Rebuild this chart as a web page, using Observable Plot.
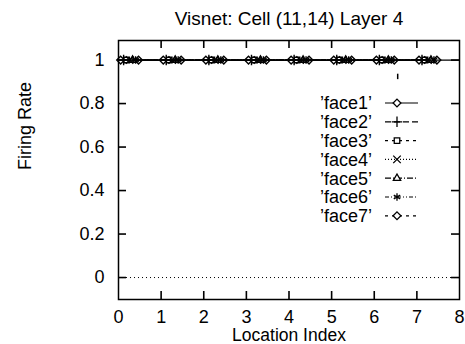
<!DOCTYPE html>
<html>
<head>
<meta charset="utf-8">
<script src="https://cdn.jsdelivr.net/npm/d3@7"></script>
<script src="https://cdn.jsdelivr.net/npm/@observablehq/plot@0.6"></script>
<style>
  html, body { margin: 0; padding: 0; background: #fff; }
  #wrap { position: relative; width: 465px; height: 344px; font-family: "Liberation Sans", Arial, sans-serif; }
  #legend { position: absolute; left: 0; top: 0; pointer-events: none; }
</style>
</head>
<body>
<div id="wrap"></div>
<script>
const title = "Visnet: Cell (11,14) Layer 4";
const xLabel = "Location Index";
const yLabel = "Firing Rate";
const faces = ["’face1’", "’face2’", "’face3’", "’face4’", "’face5’", "’face6’", "’face7’"];
const symbols = ["diamond2", "plus", "square2", "times", "triangle2", "asterisk", "diamond2"];
const dashes = [null, "6,3", "3,4", "1,2", "6,2,1,2", "4,2,1,2,1,2", "3,4"];
const xTicks = [0, 1, 2, 3, 4, 5, 6, 7, 8];
const yTicks = [0, 0.2, 0.4, 0.6, 0.8, 1];

// x positions of each face's points (one per location), all with firing rate 1
const face1X = [0.05, 1.05, 2.05, 3.05, 4.05, 5.05, 6.05, 7.05];
const face2X = [0.12, 1.12, 2.12, 3.12, 4.12, 5.12, 6.12, 7.12];
const face3X = [0.19, 1.19, 2.19, 3.19, 4.19, 5.19, 6.19, 7.19];
const face4X = [0.26, 1.26, 2.26, 3.26, 4.26, 5.26, 6.26, 7.26];
const face5X = [0.33, 1.33, 2.33, 3.33, 4.33, 5.33, 6.33, 7.33];
const face6X = [0.40, 1.40, 2.40, 3.40, 4.40, 5.40, 6.40, 7.40];
const face7X = [0.47, 1.47, 2.47, 3.47, 4.47, 5.47, 6.47, 7.47];
const face1Y = [1, 1, 1, 1, 1, 1, 1, 1];
const face2Y = [1, 1, 1, 1, 1, 1, 1, 1];
const face3Y = [1, 1, 1, 1, 1, 1, 1, 1];
const face4Y = [1, 1, 1, 1, 1, 1, 1, 1];
const face5Y = [1, 1, 1, 1, 1, 1, 1, 1];
const face6Y = [1, 1, 1, 1, 1, 1, 1, 1];
const face7Y = [1, 1, 1, 1, 1, 1, 1, 1];
// small stray mark below the line
const strayX = [6.55];
const strayY1 = [0.91];
const strayY2 = [0.935];

const faceXs = [face1X, face2X, face3X, face4X, face5X, face6X, face7X];
const faceYs = [face1Y, face2Y, face3Y, face4Y, face5Y, face6Y, face7Y];

const W = 465, H = 344, mT = 40, mB = 45, mL = 118, mR = 6;
const xDom = [0, 8], yDom = [-0.101, 1.09];
const TICK = 8;
const tickLenX = TICK * (xDom[1] - xDom[0]) / (W - mL - mR);
const tickLenY = TICK * (yDom[1] - yDom[0]) / (H - mT - mB);
const innerX = xTicks.slice(1, -1);
const tickBottom = innerX.map(x => ({x, y1: yDom[0], y2: yDom[0] + tickLenY}));
const tickTop = innerX.map(x => ({x, y1: yDom[1], y2: yDom[1] - tickLenY}));
const tickLeft = yTicks.map(y => ({y, x1: xDom[0], x2: xDom[0] + tickLenX}));
const tickRight = yTicks.map(y => ({y, x1: xDom[1], x2: xDom[1] - tickLenX}));

const font = "Liberation Sans, Arial, sans-serif";
const marks = [];
marks.push(Plot.ruleY([0], {stroke: "#000", strokeWidth: 1, strokeDasharray: "1,3"}));
marks.push(Plot.ruleY([1], {stroke: "#000", strokeWidth: 1.3}));
faces.forEach((f, i) => {
  const data = faceXs[i].map((x, j) => ({x, y: faceYs[i][j]}));
  marks.push(Plot.line(data, {x: "x", y: "y", stroke: "#000", strokeWidth: 1.2, strokeDasharray: dashes[i] || undefined}));
  marks.push(Plot.dot(data, {x: "x", y: "y", symbol: () => symbols[i], r: 3.5, stroke: "#000", strokeWidth: 1.4, fill: "none"}));
});
marks.push(Plot.ruleX(strayX.map((x, i) => ({x, y1: strayY1[i], y2: strayY2[i]})), {x: "x", y1: "y1", y2: "y2", stroke: "#000", strokeWidth: 1.5}));
// inward ticks on all four sides
marks.push(Plot.ruleX(tickBottom, {x: "x", y1: "y1", y2: "y2", stroke: "#000", strokeWidth: 1.6}));
marks.push(Plot.ruleX(tickTop, {x: "x", y1: "y1", y2: "y2", stroke: "#000", strokeWidth: 1.6}));
marks.push(Plot.ruleY(tickLeft, {y: "y", x1: "x1", x2: "x2", stroke: "#000", strokeWidth: 1.6}));
marks.push(Plot.ruleY(tickRight, {y: "y", x1: "x1", x2: "x2", stroke: "#000", strokeWidth: 1.6}));
// tick labels
marks.push(Plot.axisX(xTicks, {anchor: "bottom", label: null, tickSize: 0, tickPadding: 11, fontSize: 18, tickFormat: d => String(d)}));
marks.push(Plot.axisY(yTicks, {anchor: "left", label: null, tickSize: 0, tickPadding: 14, fontSize: 18, tickFormat: d => String(d)}));
marks.push(Plot.frame({stroke: "#000", strokeWidth: 1.5}));
marks.push(Plot.text([title], {text: d => d, frameAnchor: "top", lineAnchor: "top", dy: -29, fontSize: 19, fill: "#000"}));
marks.push(Plot.text([xLabel], {text: d => d, frameAnchor: "bottom", lineAnchor: "top", dy: 29, fontSize: 17.5, fill: "#000"}));
marks.push(Plot.text([yLabel], {text: d => d, frameAnchor: "left", rotate: -90, dx: -93, dy: 0, fontSize: 18, fill: "#000"}));

const chart = Plot.plot({
  width: W,
  height: H,
  marginTop: mT,
  marginBottom: mB,
  marginLeft: mL,
  marginRight: mR,
  x: {domain: xDom},
  y: {domain: yDom},
  style: {fontFamily: font, fontSize: "18px", color: "#000", background: "#fff"},
  marks
});
const wrap = document.getElementById("wrap");
wrap.appendChild(chart);

// overlay: legend
const leg = d3.select(wrap).append("svg").attr("id", "legend").attr("width", W).attr("height", H);
const rowY0 = 103, rowStep = 18.8;
const symMap = {diamond2: d3.symbolDiamond2, plus: d3.symbolPlus, square2: d3.symbolSquare2, times: d3.symbolTimes, triangle2: d3.symbolTriangle2, asterisk: d3.symbolAsterisk};
faces.forEach((f, i) => {
  const y = rowY0 + i * rowStep;
  leg.append("text").attr("x", 372).attr("y", y).attr("dy", "0.35em").attr("text-anchor", "end")
    .attr("font-family", font).attr("font-size", 18).attr("fill", "#000").text(f);
  leg.append("line").attr("x1", 385).attr("x2", 418).attr("y1", y).attr("y2", y)
    .attr("stroke", "#000").attr("stroke-width", 1.2).attr("stroke-dasharray", dashes[i] || null);
  leg.append("path").attr("transform", `translate(397,${y})`)
    .attr("d", d3.symbol(symMap[symbols[i]], Math.PI * 3.5 * 3.5)())
    .attr("fill", "#fff").attr("stroke", "#000").attr("stroke-width", 1.3);
});
</script>
</body>
</html>
